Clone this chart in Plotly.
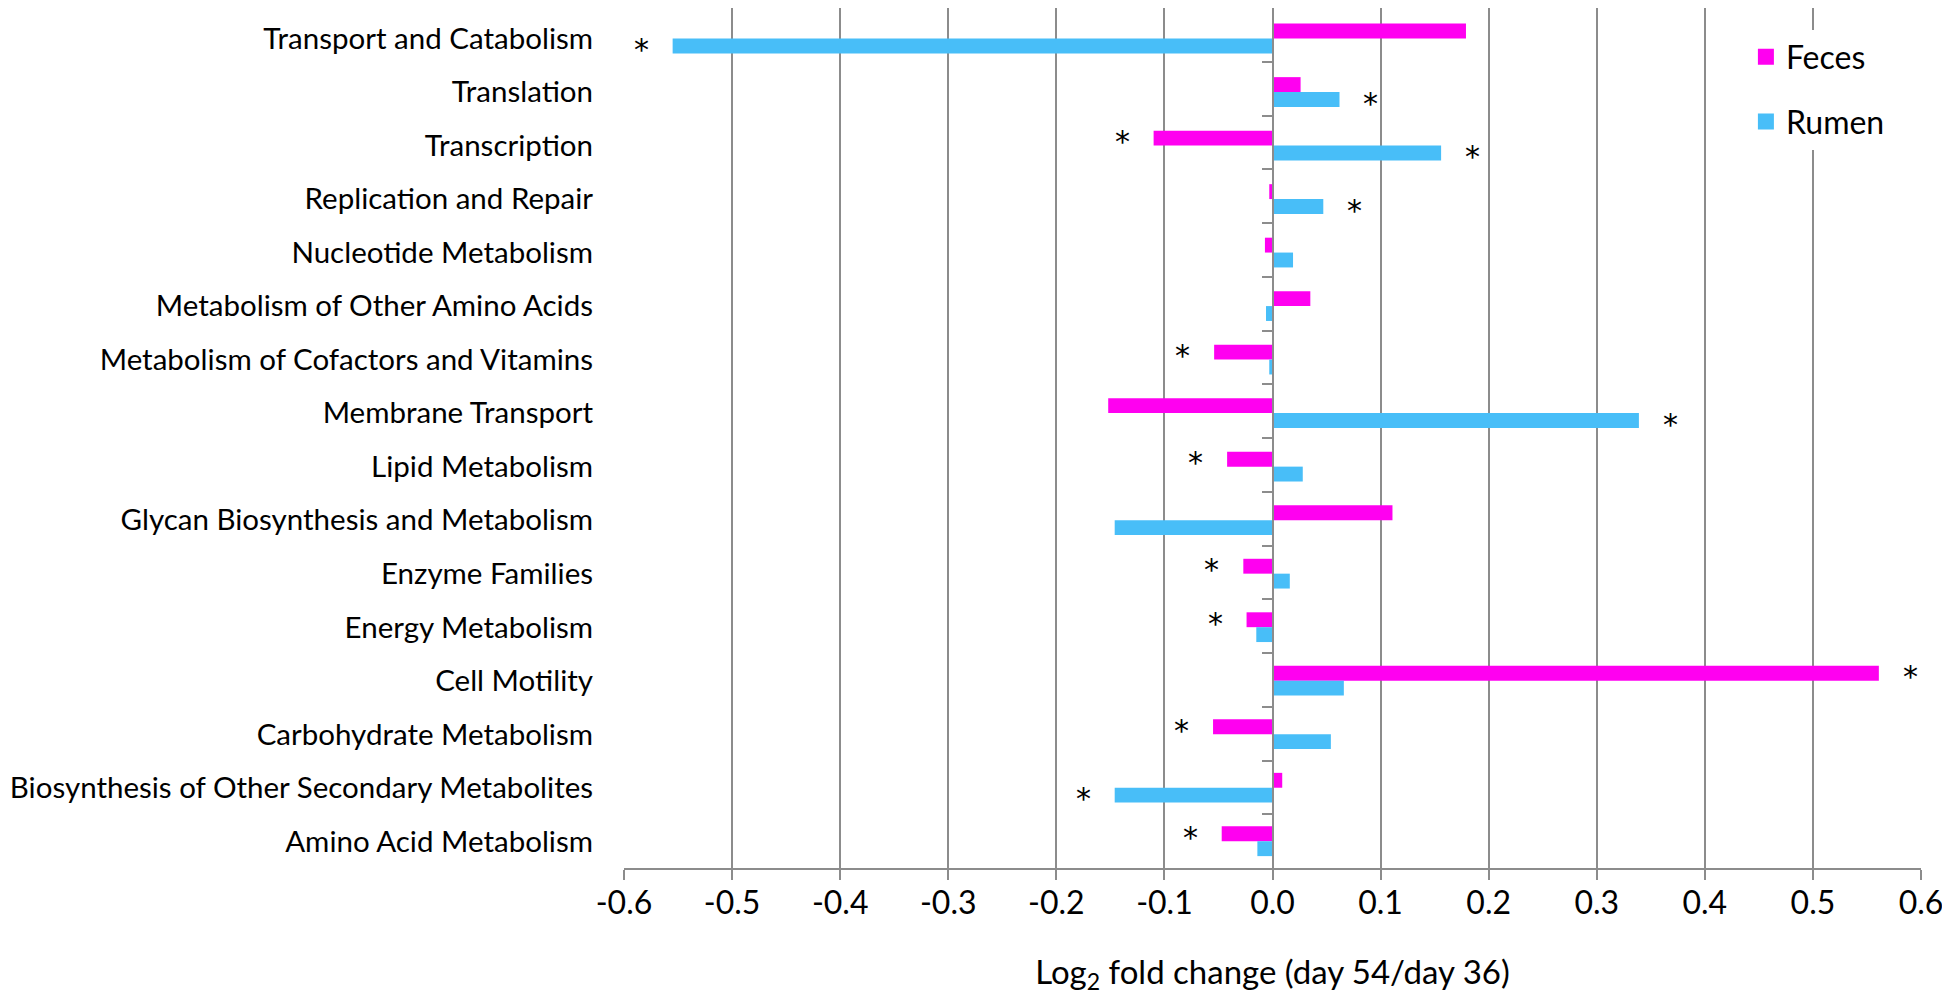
import plotly.graph_objects as go

# categories listed top to bottom as in the figure
categories = [
    "Transport and Catabolism",
    "Translation",
    "Transcription",
    "Replication and Repair",
    "Nucleotide Metabolism",
    "Metabolism of Other Amino Acids",
    "Metabolism of Cofactors and Vitamins",
    "Membrane Transport",
    "Lipid Metabolism",
    "Glycan Biosynthesis and Metabolism",
    "Enzyme Families",
    "Energy Metabolism",
    "Cell Motility",
    "Carbohydrate Metabolism",
    "Biosynthesis of Other Secondary Metabolites",
    "Amino Acid Metabolism",
]

feces = [0.179, 0.026, -0.110, -0.003, -0.007, 0.035, -0.054, -0.152,
         -0.042, 0.111, -0.027, -0.024, 0.561, -0.055, 0.009, -0.047]
rumen = [-0.555, 0.062, 0.156, 0.047, 0.019, -0.006, -0.003, 0.339,
         0.028, -0.146, 0.016, -0.015, 0.066, 0.054, -0.146, -0.014]

# significance flags (asterisks)
feces_sig = [0, 0, 1, 0, 0, 0, 1, 0, 1, 0, 1, 1, 1, 1, 0, 1]
rumen_sig = [1, 1, 1, 1, 0, 0, 0, 1, 0, 0, 0, 0, 0, 0, 1, 0]

tick_vals = [-0.6, -0.5, -0.4, -0.3, -0.2, -0.1, 0.0, 0.1, 0.2, 0.3, 0.4, 0.5, 0.6]
tick_labels = ["-0.6", "-0.5", "-0.4", "-0.3", "-0.2", "-0.1", "0.0",
               "0.1", "0.2", "0.3", "0.4", "0.5", "0.6"]

FECES_COLOR = "#FF00F0"
RUMEN_COLOR = "#48BEF8"
GRID = "#8C8C8C"
FONT = "Lato"

fig = go.Figure()

fig.add_trace(go.Bar(y=categories, x=feces, orientation="h", name="Feces",
                     marker=dict(color=FECES_COLOR, line=dict(width=0)),
                     showlegend=False))
fig.add_trace(go.Bar(y=categories, x=rumen, orientation="h", name="Rumen",
                     marker=dict(color=RUMEN_COLOR, line=dict(width=0)),
                     showlegend=False))

# legend entries
for name, col in [("Feces", FECES_COLOR), ("Rumen", RUMEN_COLOR)]:
    fig.add_trace(go.Scatter(x=[None], y=[None], mode="markers", name=name,
                             legendgroup=name,
                             marker=dict(symbol="square", size=16, color=col)))

# hidden trace so the zero axis (with category boundary ticks) is drawn
fig.add_trace(go.Scatter(x=[None], y=[None], yaxis="y2", showlegend=False,
                         hoverinfo="skip"))

# asterisks
for vals, sig, shift in [(feces, feces_sig, 4), (rumen, rumen_sig, -11)]:
    for cat, v, s in zip(categories, vals, sig):
        if s:
            fig.add_annotation(x=v + (0.029 if v > 0 else -0.029), y=cat,
                               text="*", showarrow=False, yshift=shift,
                               font=dict(size=30, color="black",
                                         family="DejaVu Sans"))

# the page body adds 8px around the plot, so the figure is 8px smaller
fig.update_layout(
    width=1942, height=993,
    margin=dict(l=616, r=29, t=0, b=133),
    plot_bgcolor="white", paper_bgcolor="white",
    font=dict(family=FONT, color="black"),
    barmode="group", bargap=0.444, bargroupgap=0,
    legend=dict(x=0.865, y=0.975, xanchor="left", yanchor="top",
                bgcolor="white", font=dict(size=32),
                traceorder="grouped", tracegroupgap=20),
    xaxis=dict(range=[-0.6, 0.6], tickvals=tick_vals, ticktext=tick_labels,
               showgrid=True, gridcolor=GRID, gridwidth=2,
               zeroline=False, showline=True, linecolor=GRID, linewidth=2,
               ticks="outside", ticklen=10, tickwidth=2, tickcolor=GRID,
               tickfont=dict(size=32), automargin=False, ticklabelstandoff=-4,
               title=dict(text="Log<sub>2</sub> fold change (day 54/day 36)",
                          font=dict(size=33), standoff=40)),
    yaxis=dict(autorange="reversed", showgrid=False, zeroline=False,
               ticks="", showline=False, ticklabelstandoff=30,
               tickfont=dict(size=29.5), automargin=False),
    yaxis2=dict(overlaying="y", anchor="free", position=0.5, side="left",
                range=[len(categories) - 0.5, -0.5],
                tickvals=[i + 0.5 for i in range(len(categories) - 1)],
                showticklabels=False, ticks="outside", ticklen=10, tickwidth=2,
                tickcolor=GRID, showline=True, linecolor=GRID, linewidth=2,
                showgrid=False, zeroline=False, automargin=False),
)

fig.write_html("out.html")
